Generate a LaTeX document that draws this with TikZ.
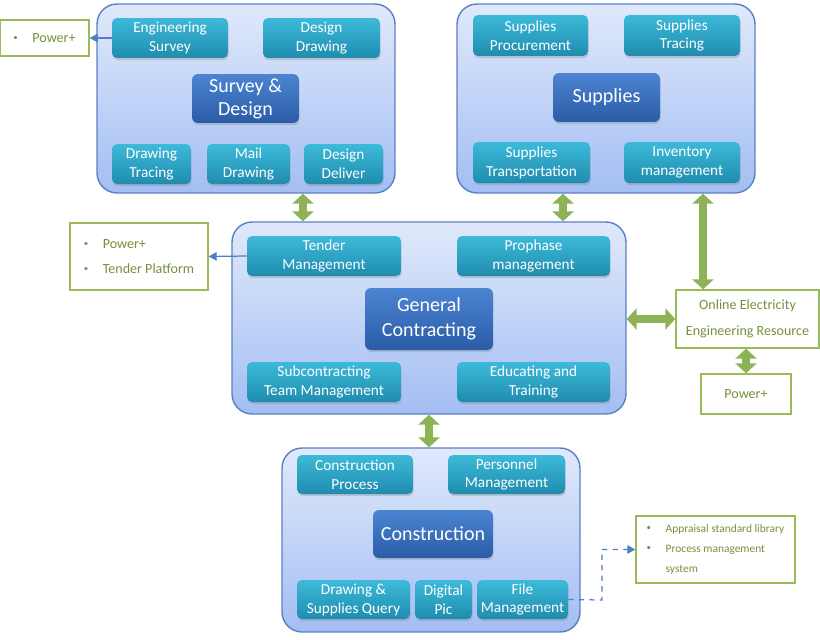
\documentclass[tikz,border=0pt]{standalone}
\usepackage{fontspec}
\setmainfont{Carlito}
\usepackage{xcolor}
\usepackage{tikz}
\usetikzlibrary{arrows.meta, positioning, calc, shadows}

\definecolor{contline}{HTML}{5B80C2}
\definecolor{conttop}{HTML}{E0E9FB}
\definecolor{contbot}{HTML}{A3BEF3}
\definecolor{subtop}{HTML}{3DBAD9}
\definecolor{subbot}{HTML}{1F8CAE}
\definecolor{coretop}{HTML}{4C84D2}
\definecolor{corebot}{HTML}{2B5CA6}
\definecolor{pgreen}{HTML}{8DB356}
\definecolor{nline}{HTML}{9BBB59}
\definecolor{ntext}{HTML}{76923C}
\definecolor{parrow}{HTML}{4F7FC0}

\newcommand{\blt}{\makebox[0.38cm][l]{\raisebox{0.3ex}{\fontsize{5}{5}\selectfont\textbullet}}}

\begin{document}
\begin{tikzpicture}[x=0.02cm, y=-0.02cm,
    cont/.style={draw=contline, line width=0.8pt, rounded corners=0.4cm, top color=conttop, bottom color=contbot, minimum width=5.96cm},
    sub/.style={rounded corners=0.1cm, top color=subtop, bottom color=subbot, text=white, align=center, minimum height=0.8cm, inner sep=1pt,
        font=\fontsize{8.7}{10.8}\selectfont, drop shadow={shadow xshift=0.4pt, shadow yshift=-1.2pt, opacity=0.3}},
    core/.style={rounded corners=0.12cm, top color=coretop, bottom color=corebot, text=white, align=center, inner sep=1pt,
        font=\fontsize{11.4}{13.2}\selectfont, drop shadow={shadow xshift=0.4pt, shadow yshift=-1.2pt, opacity=0.3}},
    note/.style={draw=nline, line width=0.8pt, fill=white, text=ntext, align=left, inner sep=1pt, font=\fontsize{8}{14.7}\selectfont},
    dbl/.style={draw=pgreen, line width=0.15cm, {Triangle[length=0.2cm,width=0.42cm]}-{Triangle[length=0.2cm,width=0.42cm]}},
    link/.style={draw=parrow, line width=0.7pt, -{Triangle[length=0.16cm,width=0.17cm]}}
]
    \useasboundingbox[fill=white] (0,0) rectangle (820,639);

    % Survey & Design
    \node[cont, minimum height=3.78cm] at (246,98.5) (survey) {};
    \node[sub, minimum width=2.32cm] at (170,38) (engsurvey) {Engineering\\Survey};
    \node[sub, minimum width=2.34cm] at (321.5,38) (desdraw) {Design\\Drawing};
    \node[core, minimum width=2.14cm, minimum height=0.98cm] at (245.5,98.5) (sdcore) {Survey \&\\Design};
    \node[sub, minimum width=1.58cm] at (151.5,164) (drawtrace) {Drawing\\Tracing};
    \node[sub, minimum width=1.66cm] at (248.5,164) (maildraw) {Mail\\Drawing};
    \node[sub, minimum width=1.58cm] at (343.5,164) (desdeliver) {Design\\Deliver};
    \node[note, minimum width=1.78cm, minimum height=0.72cm] at (44.5,38) (powera) {\blt Power+};
    \draw[link] (engsurvey.west) -- (powera.east);

    % Supplies
    \node[cont, minimum height=3.78cm] at (606,98.5) (supplies) {};
    \node[sub, minimum width=2.3cm, minimum height=0.82cm] at (530.5,35.5) (supproc) {Supplies\\Procurement};
    \node[sub, minimum width=2.32cm, minimum height=0.82cm] at (682,35.5) (suptrace) {Supplies\\Tracing};
    \node[core, minimum width=2.14cm, minimum height=0.98cm] at (606.5,97.5) (supcore) {Supplies};
    \node[sub, minimum width=2.34cm, minimum height=0.82cm] at (531.5,162.5) (suptrans) {Supplies\\Transportation};
    \node[sub, minimum width=2.32cm, minimum height=0.82cm] at (682,162.5) (inventory) {Inventory\\management};

    % General Contracting
    \node[cont, minimum width=7.88cm, minimum height=3.84cm] at (429,318) (gc) {};
    \node[sub, minimum width=3.08cm] at (324,256) (tender) {Tender\\Management};
    \node[sub, minimum width=3.06cm] at (533.5,256) (prophase) {Prophase\\management};
    \node[core, minimum width=2.56cm, minimum height=1.24cm, font=\fontsize{11.4}{14.4}\selectfont] at (429,319) (gccore) {General\\Contracting};
    \node[sub, minimum width=3.08cm] at (324,382) (subcon) {Subcontracting\\Team Management};
    \node[sub, minimum width=3.06cm] at (533.5,382) (educate) {Educating and\\Training};
    \node[note, minimum width=2.76cm, minimum height=1.34cm] at (139,256.5) (tendernote) {\blt Power+\\\blt Tender Platform};
    \draw[link] (tender.west) -- (tendernote.east);

    % Online resource
    \node[note, align=center, minimum width=2.86cm, minimum height=1.16cm] at (747.5,319) (online) {Online Electricity\\Engineering Resource};
    \node[note, minimum width=1.8cm, minimum height=0.8cm] at (746,394) (powerb) {Power+};

    % Construction
    \node[cont, minimum height=3.68cm] at (431,540) (cons) {};
    \node[sub, minimum width=2.32cm, minimum height=0.78cm] at (355,474.5) (consproc) {Construction\\Process};
    \node[sub, minimum width=2.34cm, minimum height=0.78cm] at (506.5,474.5) (personnel) {Personnel\\Management};
    \node[core, minimum width=2.4cm, minimum height=0.96cm] at (433,534) (conscore) {Construction};
    \node[sub, minimum width=2.26cm, minimum height=0.78cm] at (353.5,599.5) (dsquery) {Drawing \&\\Supplies Query};
    \node[sub, minimum width=1.14cm, minimum height=0.78cm] at (443.5,599.5) (digpic) {Digital\\Pic};
    \node[sub, minimum width=1.82cm, minimum height=0.78cm] at (522.5,599.5) (filemgmt) {File\\Management};
    \node[note, minimum width=3.18cm, minimum height=1.34cm, font=\fontsize{6.5}{11.6}\selectfont] at (715.5,549.5) (appraisal)
        {\blt Appraisal standard library\\\blt Process management\\\hspace*{0.38cm}system};
    \coordinate (bend) at (602,600);
    \draw[link, dashed] (filemgmt.east) -- (bend) |- (appraisal.west);

    % green links
    \draw[dbl] ([xshift=1.14cm]survey.south) -- ([xshift=1.14cm]survey.south |- gc.north);
    \draw[dbl] ([xshift=-0.86cm]supplies.south) -- ([xshift=-0.86cm]supplies.south |- gc.north);
    \draw[dbl] ([xshift=1.94cm]supplies.south) -- ([xshift=1.94cm]supplies.south |- online.north);
    \draw[dbl] (gc.east |- online.west) -- (online.west);
    \draw[dbl] (powerb.north |- online.south) -- (powerb.north);
    \draw[dbl] (gc.south) -- (gc.south |- cons.north);
\end{tikzpicture}
\end{document}
